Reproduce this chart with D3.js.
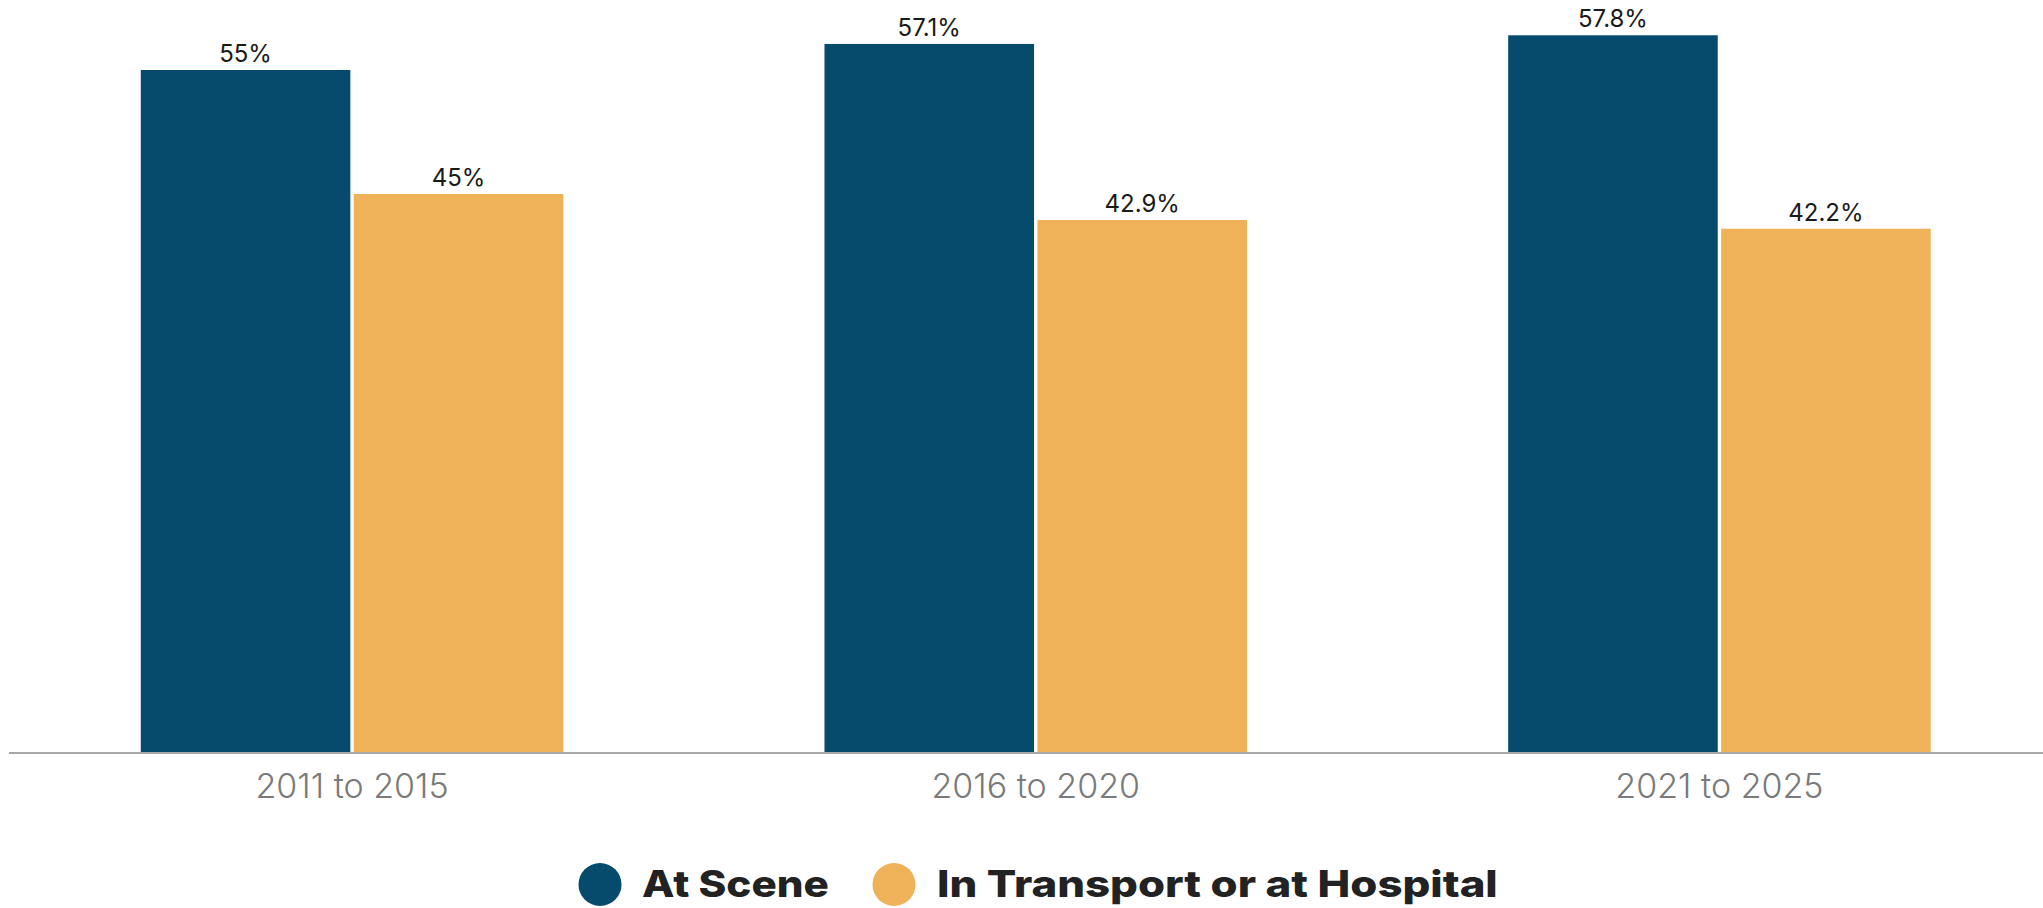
<!DOCTYPE html>
<html>
<head>
<meta charset="utf-8">
<script src="https://cdn.jsdelivr.net/npm/d3@7"></script>
<style>
  html, body { margin: 0; padding: 0; background: #fff; }
  svg { display: block; }
</style>
</head>
<body>
<svg id="chart" width="2043" height="908"></svg>
<script>
const categories = ["2011 to 2015", "2016 to 2020", "2021 to 2025"];
const seriesNames = ["At Scene", "In Transport or at Hospital"];
const atScene = [55, 57.1, 57.8];
const inTransport = [45, 42.9, 42.2];
const valueLabels = [["55%", "57.1%", "57.8%"], ["45%", "42.9%", "42.2%"]];
const colors = ["#074b6c", "#efb259"];

const W = 2043, H = 908;
const baseY = 752;
const svg = d3.select("#chart");

const x0 = d3.scaleBand().domain(categories).range([10.2, 2061.3]).paddingInner(0.382).paddingOuter(0.191);
const x1 = d3.scaleBand().domain(seriesNames).range([0, x0.bandwidth()]).paddingInner(0.016);
const y = d3.scaleLinear().domain([0, 60]).range([baseY, baseY - 60 * 12.4]);

const seriesVals = [atScene, inTransport];
const data = [];
categories.forEach((c, i) => {
  seriesNames.forEach((s, j) => {
    data.push({ cat: c, ser: s, v: seriesVals[j][i], lab: valueLabels[j][i], color: colors[j] });
  });
});

svg.append("g").selectAll("rect").data(data).join("rect")
  .attr("x", d => x0(d.cat) + x1(d.ser))
  .attr("y", d => y(d.v))
  .attr("width", x1.bandwidth())
  .attr("height", d => baseY - y(d.v))
  .attr("fill", d => d.color);

svg.append("g").selectAll("text").data(data).join("text")
  .attr("x", d => x0(d.cat) + x1(d.ser) + x1.bandwidth() / 2)
  .attr("y", d => y(d.v) - 8)
  .attr("text-anchor", "middle")
  .attr("font-family", "Inter, 'Open Sans', sans-serif")
  .attr("font-size", 24)
  .attr("fill", "#1a1a1a")
  .text(d => d.lab);

// x axis
const xAxis = svg.append("g").attr("transform", `translate(0,${baseY})`)
  .call(d3.axisBottom(x0).tickSize(0).tickPadding(0));
xAxis.select(".domain").remove();
xAxis.append("line").attr("x1", 9).attr("x2", W).attr("y1", 1).attr("y2", 1)
  .attr("stroke", "#a8a8a8").attr("stroke-width", 2);
xAxis.selectAll(".tick text")
  .attr("dy", 0).attr("y", 46)
  .attr("font-family", "Inter, 'Open Sans', sans-serif")
  .attr("font-weight", 300)
  .attr("font-size", 34)
  .attr("fill", "#7a7a7a");

// legend
const legend = svg.append("g");
const legendItems = [
  { name: seriesNames[0], color: colors[0], cx: 600, tx: 642, len: 187 },
  { name: seriesNames[1], color: colors[1], cx: 894, tx: 937, len: 561 }
];
legendItems.forEach(it => {
  legend.append("circle").attr("cx", it.cx).attr("cy", 884.5).attr("r", 21.5).attr("fill", it.color);
  const t = legend.append("text")
    .attr("x", 0).attr("y", 0)
    .attr("font-family", "Inter, 'Open Sans', sans-serif")
    .attr("font-weight", 800)
    .attr("font-size", 37)
    .attr("fill", "#222")
    .text(it.name);
  const w = t.node().getComputedTextLength() || it.len;
  t.attr("transform", `translate(${it.tx},897) scale(${it.len / w},1)`);
});
</script>
</body>
</html>
